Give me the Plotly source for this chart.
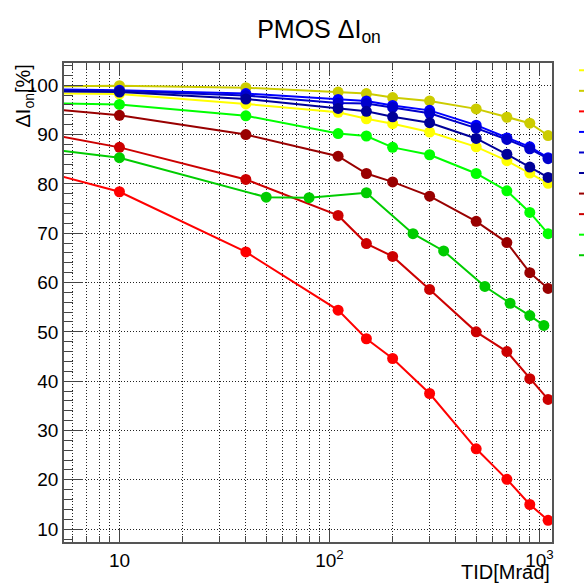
import plotly.graph_objects as go

# ---- data ----
tid = [1, 10, 40, 110, 150, 200, 300, 500, 700, 900, 1100]
tid_g2 = [1, 10, 50, 80, 150, 250, 350, 550, 725, 900, 1050]

yellow = [98.6, 98.2, 96.2, 94.5, 93.2, 92.2, 90.5, 87.5, 84.7, 82.2, 80.1]
olive = [99.5, 99.9, 99.5, 98.6, 98.3, 97.5, 96.8, 95.2, 93.5, 92.3, 89.8]
red = [89.7, 78.4, 66.2, 54.4, 48.6, 44.6, 37.5, 26.3, 20.1, 15.0, 11.8]
blue = [99.4, 99.0, 98.3, 97.1, 96.8, 95.9, 94.9, 91.9, 89.3, 87.5, 85.3]
blue2 = [99.1, 98.8, 97.9, 96.4, 96.3, 95.5, 94.3, 91.3, 89.0, 87.1, 85.1]
navy = [99.0, 98.6, 97.2, 95.3, 94.7, 93.6, 92.4, 89.2, 86.0, 83.4, 81.3]
darkred = [97.7, 93.9, 90.0, 85.6, 82.1, 80.4, 77.5, 72.4, 68.1, 62.0, 58.8]
red2 = [95.4, 87.4, 80.9, 73.6, 67.9, 65.3, 58.6, 50.0, 46.0, 40.5, 36.3]
green = [96.9, 96.1, 93.8, 90.2, 89.7, 87.4, 85.9, 82.1, 78.6, 74.2, 69.9]
green2 = [90.5, 85.3, 77.3, 77.2, 78.2, 69.9, 66.4, 59.2, 55.8, 53.3, 51.3]

series = [
    ("PMOS 1", tid, yellow, "#ffff00"),
    ("PMOS 2", tid, olive, "#cccc00"),
    ("PMOS 3", tid, red, "#ff0000"),
    ("PMOS 4", tid, blue, "#0000ff"),
    ("PMOS 5", tid, blue2, "#0000cc"),
    ("PMOS 6", tid, navy, "#000099"),
    ("PMOS 7", tid, darkred, "#990000"),
    ("PMOS 8", tid, red2, "#cc0000"),
    ("PMOS 9", tid, green, "#00ff00"),
    ("PMOS 10", tid_g2, green2, "#00cc00"),
]

y_ticks = [10, 20, 30, 40, 50, 60, 70, 80, 90, 100]
x_ticks = [10, 100, 1000]
x_ticktext = ["10", "10<sup>2</sup>", "10<sup>3</sup>"]
x_minor = [6, 7, 8, 9, 20, 30, 40, 50, 60, 70, 80, 90,
           200, 300, 400, 500, 600, 700, 800, 900]

fig = go.Figure()
for name, xs, ys, col in series:
    fig.add_trace(go.Scatter(
        x=xs, y=ys, name=name, mode="lines+markers",
        line=dict(color=col, width=2),
        marker=dict(color=col, size=11, symbol="circle"),
    ))

W, H = 584, 584
L, R, T, B = 64, 32, 63, 42
pw, ph = W - L - R, H - T - B
GRID_DASH = "1px,2px"

fig.update_layout(
    width=W, height=H,
    margin=dict(l=L, r=R, t=T, b=B, autoexpand=False),
    paper_bgcolor="white", plot_bgcolor="white",
    font=dict(family="Liberation Sans, Arial, sans-serif", color="black", size=19),
    title=dict(text="PMOS ΔI<sub>on</sub>", x=319 / W, xanchor="center",
               xref="container", y=1 - 29 / H, yanchor="middle",
               font=dict(size=25)),
    showlegend=True,
    legend=dict(x=(574 - L) / pw, xanchor="left", y=1.0 + 8 / ph, yanchor="top",
                bgcolor="rgba(0,0,0,0)", borderwidth=0,
                font=dict(size=13.5), tracegroupgap=0),
    xaxis=dict(
        type="log", range=[0.736, 3.060],
        tickvals=x_ticks, ticktext=x_ticktext,
        ticks="inside", ticklen=13, tickwidth=1, tickcolor="#444",
        showline=True, linecolor="#555", linewidth=1.5, mirror="ticks",
        showgrid=True, gridcolor="#222", gridwidth=1, griddash=GRID_DASH,
        zeroline=False, tickfont=dict(size=19),
        minor=dict(tickvals=x_minor, ticks="inside", ticklen=6,
                   tickcolor="#444", showgrid=True, gridcolor="#222",
                   griddash=GRID_DASH, gridwidth=1),
    ),
    yaxis=dict(
        range=[7.4, 104.5], tickvals=y_ticks,
        ticks="inside", ticklen=19, tickwidth=1, tickcolor="#444",
        showline=True, linecolor="#555", linewidth=1.5, mirror=True,
        showgrid=True, gridcolor="#222", gridwidth=1, griddash=GRID_DASH,
        zeroline=False, tickfont=dict(size=19),
        minor=dict(dtick=2, ticks="inside", ticklen=9, tickcolor="#444",
                   showgrid=False),
    ),
    annotations=[
        dict(text="ΔI<sub>on</sub>[%]", textangle=-90, xref="paper", yref="paper",
             x=(24 - L) / pw, y=1.0, xanchor="center", yanchor="top",
             showarrow=False, font=dict(size=20)),
        dict(text="TID[Mrad]", xref="paper", yref="paper",
             x=1.0, y=-(572 - (T + ph)) / ph, xanchor="right", yanchor="middle",
             showarrow=False, font=dict(size=20)),
    ],
)

fig.write_html("out.html",
               config={"displayModeBar": False},
               post_script="document.body.style.margin='0';"
                           "document.body.style.overflow='hidden';")
